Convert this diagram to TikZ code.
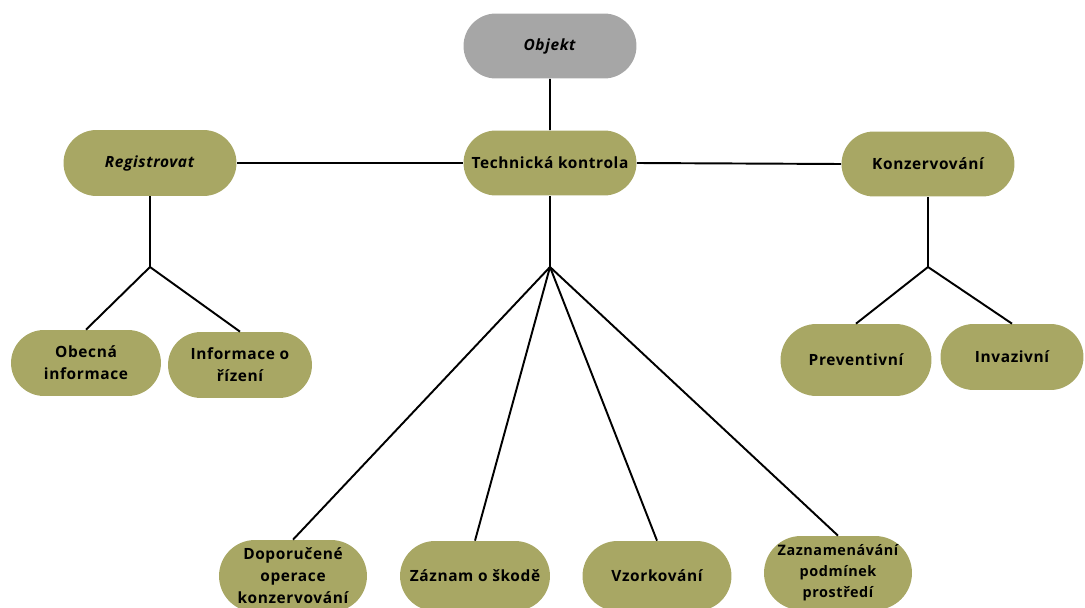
\documentclass[tikz,border=0pt]{standalone}
\usepackage{fontspec}
\setmainfont[LetterSpace=4]{Open Sans}
\usetikzlibrary{shapes.misc}
\definecolor{olive}{HTML}{A8A764}
\definecolor{greybox}{HTML}{A6A6A6}

\begin{document}
\begin{tikzpicture}[x=0.02cm,y=-0.02cm,
	box/.style={rounded rectangle,fill=olive,inner sep=2pt,align=center,
		font=\fontsize{8.8}{12.5}\selectfont\bfseries},
	link/.style={-,line width=1.1pt,black}]
	
	\useasboundingbox (0,0) rectangle (1085,608);
	
	\node[box,fill=greybox,minimum width=3.6cm,minimum height=1.3cm] (obj) at (550, 46) {\textit{Objekt}};
	\node[box,minimum width=3.6cm,minimum height=1.3cm] (tech) at (550, 163) {Technická kontrola};
	\node[box,minimum width=3.6cm,minimum height=1.32cm] (reg) at (150, 163) {\textit{Registrovat}};
	\node[box,minimum width=3.6cm,minimum height=1.3cm] (konz) at (928, 164) {Konzervování};
	
	\node[box,minimum width=3.14cm,minimum height=1.32cm] (obec) at (86, 363) {Obecná\\informace};
	\node[box,minimum width=3.02cm,minimum height=1.32cm] (rizeni) at (240, 365) {Informace o\\řízení};
	
	\node[box,minimum width=3.16cm,minimum height=1.44cm] (prev) at (856, 360) {Preventivní};
	\node[box,minimum width=3.0cm,minimum height=1.32cm] (inv) at (1012, 357) {Invazivní};
	
	\node[box,minimum width=3.1cm,minimum height=1.44cm] (dop) at (293, 576) {Doporučené\\operace\\konzervování};
	\node[box,minimum width=3.14cm,minimum height=1.4cm] (skoda) at (475, 576) {Záznam o škodě};
	\node[box,minimum width=3.12cm,minimum height=1.4cm] (vzor) at (657, 576) {Vzorkování};
	\node[box,font=\fontsize{8.2}{12}\selectfont\bfseries,minimum width=3.1cm,minimum height=1.48cm] (zazn) at (838, 573) {Zaznamenávání\\podmínek\\prostředí};
	
	\coordinate (jreg) at (150, 267);
	\coordinate (jtech) at (550, 267);
	\coordinate (jkonz) at (928, 267);
	
	\draw[link] (obj) -- (tech);
	\draw[link] (reg.east) -- (tech.west);
	\draw[link] (tech.east) -- (konz.west);
	
	\draw[link] (reg.south) -- (jreg);
	\draw[link] (jreg) -- (obec.north);
	\draw[link] (jreg) -- (rizeni.north);
	
	\draw[link] (tech.south) -- (jtech);
	\draw[link] (jtech) -- (dop.north);
	\draw[link] (jtech) -- (skoda.north);
	\draw[link] (jtech) -- (vzor.north);
	\draw[link] (jtech) -- (zazn.north);
	
	\draw[link] (konz.south) -- (jkonz);
	\draw[link] (jkonz) -- (prev.north);
	\draw[link] (jkonz) -- (inv.north);
	
\end{tikzpicture}
\end{document}
